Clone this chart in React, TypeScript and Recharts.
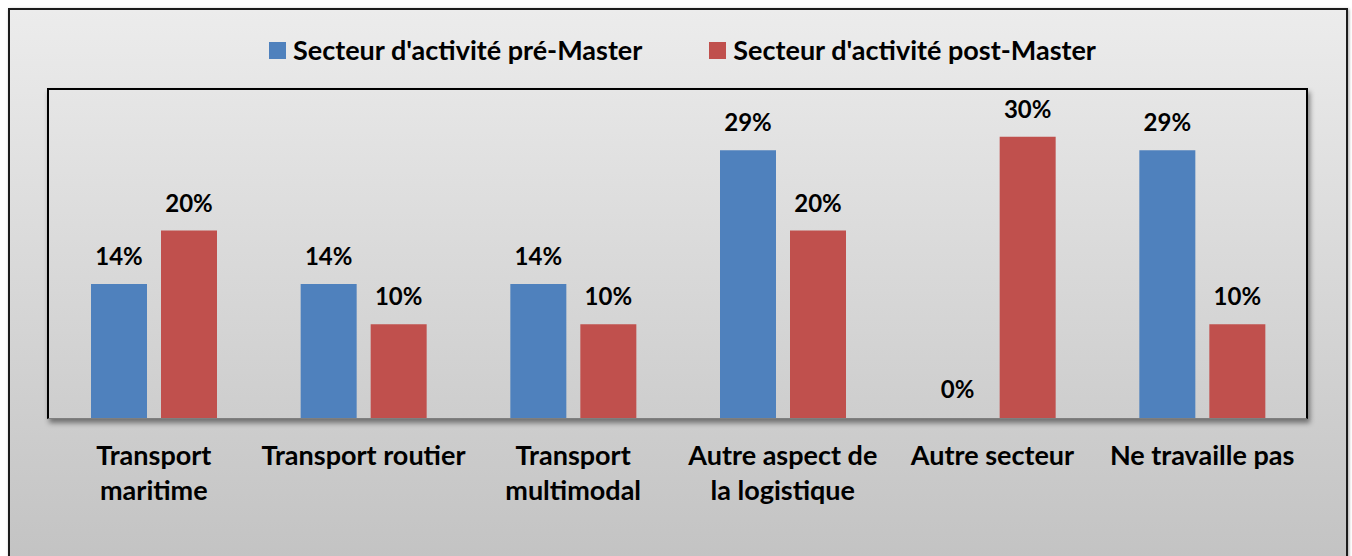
import React from "react";
import { BarChart, Bar, XAxis, YAxis, Legend, LabelList, Rectangle } from "recharts";

const categories = [
  "Transport maritime",
  "Transport routier",
  "Transport multimodal",
  "Autre aspect de la logistique",
  "Autre secteur",
  "Ne travaille pas",
];
const preMaster = [0.1429, 0.1429, 0.1429, 0.2857, 0, 0.2857];
const postMaster = [0.2, 0.1, 0.1, 0.2, 0.3, 0.1];
const seriesNames = ["Secteur d'activité pré-Master", "Secteur d'activité post-Master"];
const seriesColors = ["#4F81BD", "#C0504D"];

const FONT = "Lato, 'Open Sans', sans-serif";
const bigText = { fontFamily: FONT, fontSize: 27, fontWeight: 700 };
const labelText = { fontFamily: FONT, fontSize: 24, fontWeight: 700 };

const data = categories.map((name, i) => ({
  name,
  pre: preMaster[i],
  post: postMaster[i],
}));

const pct = (v: any) => `${Math.round(Number(v) * 100)}%`;

let ctx: CanvasRenderingContext2D | null = null;
function measure(s: string) {
  if (!ctx) ctx = document.createElement("canvas").getContext("2d");
  if (!ctx) return s.length * 13;
  ctx.font = `700 ${bigText.fontSize}px ${FONT}`;
  return ctx.measureText(s).width;
}

function wrap(label: string, maxWidth: number) {
  const words = label.split(" ");
  const lines: string[] = [];
  let cur = "";
  for (const w of words) {
    const next = cur ? `${cur} ${w}` : w;
    if (cur && measure(next) > maxWidth) {
      lines.push(cur);
      cur = w;
    } else {
      cur = next;
    }
  }
  if (cur) lines.push(cur);
  return lines;
}

function CategoryTick(props: any) {
  const { x, y, payload } = props;
  const lines = wrap(String(payload.value), 208);
  return (
    <text x={x} y={y} textAnchor="middle" fill="#000" style={bigText}>
      {lines.map((l, i) => (
        <tspan key={i} x={x} dy={i === 0 ? 0 : 35}>
          {l}
        </tspan>
      ))}
    </text>
  );
}

function TopLegend() {
  return (
    <div
      style={{
        display: "flex",
        justifyContent: "center",
        paddingLeft: 13,
        gap: 67,
        ...bigText,
        color: "#000",
        lineHeight: "34px",
      }}
    >
      {seriesNames.map((s, i) => (
        <div key={s} style={{ display: "flex", alignItems: "center" }}>
          <span
            style={{
              display: "inline-block",
              width: 17,
              height: 17,
              background: seriesColors[i],
              marginRight: 7,
            }}
          />
          <span>{s}</span>
        </div>
      ))}
    </div>
  );
}

const hideZero = (key: "pre" | "post") => (props: any) =>
  props.payload && props.payload[key] === 0 ? <g /> : <Rectangle {...props} />;

export default function App() {
  return (
    <div style={{ position: "relative", width: 1352, height: 556, overflow: "hidden", background: "#fff" }}>
      <style>{`body{margin:0;overflow:hidden}`}</style>
      <div
        style={{
          position: "absolute",
          left: 8,
          top: 8,
          width: 1336,
          height: 560,
          border: "2px solid #1c1c1c",
          background: "linear-gradient(to bottom, #ECECEC 0%, #C3C3C3 98%)",
          boxShadow: "1px 1px 3px rgba(0,0,0,0.35)",
        }}
      />
      <div
        style={{
          position: "absolute",
          left: 47,
          top: 88,
          width: 1257,
          height: 328,
          borderTop: "2px solid #000",
          borderLeft: "2px solid #000",
          borderRight: "2px solid #000",
          borderBottom: "1px solid #7f7f7f",
          boxShadow: "2px 4px 5px rgba(0,0,0,0.45)",
        }}
      />
      <div style={{ position: "absolute", left: 0, top: 0 }}>
        <BarChart
          width={1352}
          height={556}
          data={data}
          margin={{ top: 90, right: 45, bottom: 0, left: 49 }}
          barSize={56}
          barGap={14}
        >
          <XAxis
            dataKey="name"
            height={138}
            axisLine={false}
            tickLine={false}
            interval={0}
            tick={<CategoryTick />}
            tickMargin={41}
          />
          <YAxis hide domain={[0, 0.35]} />
          <Legend
            verticalAlign="middle"
            align="center"
            layout="horizontal"
            wrapperStyle={{ top: 33, left: 0, width: 1352 }}
            content={<TopLegend />}
          />
          {(["pre", "post"] as const).map((key, i) => (
            <Bar
              key={key}
              dataKey={key}
              name={seriesNames[i]}
              fill={seriesColors[i]}
              minPointSize={(v: any) => (Number(v) === 0 ? 1 : 0)}
              shape={hideZero(key)}
              isAnimationActive={false}
            >
              <LabelList
                dataKey={key}
                position="top"
                offset={19}
                formatter={pct}
                fill="#000"
                style={labelText}
                {...labelText}
              />
            </Bar>
          ))}
        </BarChart>
      </div>
    </div>
  );
}
